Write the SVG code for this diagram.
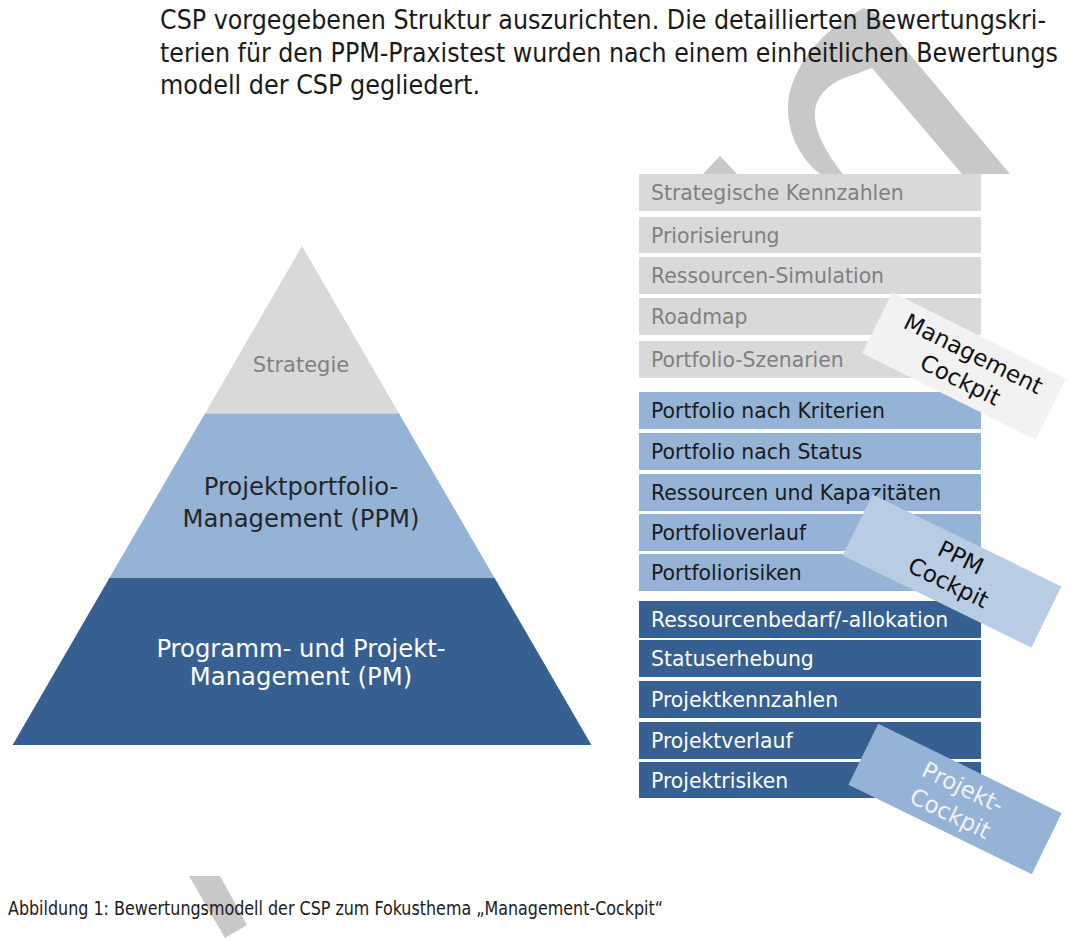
<svg xmlns="http://www.w3.org/2000/svg" width="1071" height="938" viewBox="0 0 1071 938">
<style>
.body{font-family:"DejaVu Sans Condensed","DejaVu Sans",Verdana,sans-serif;font-size:26px;fill:#1a1a1a}
.cap{font-family:"DejaVu Sans Condensed","DejaVu Sans",Verdana,sans-serif;font-size:19px;fill:#1a1a1a}
.wm{fill:#c8c8c8}
.row text{font-family:"DejaVu Sans",Verdana,sans-serif;font-size:20.4px}
.g rect{fill:#d9d9d9}.g text{fill:#808080}
.b rect{fill:#95b3d7}.b text{fill:#1a1a1a}
.d rect{fill:#366092}.d text{fill:#ffffff}
.pyr text{font-family:"DejaVu Sans",Verdana,sans-serif;text-anchor:middle}
.lab text{font-family:"DejaVu Sans",Verdana,sans-serif;font-size:23px;text-anchor:middle}
</style>
<rect width="1071" height="938" fill="#ffffff"/>
<g id="watermark">
<path class="wm" fill-rule="evenodd" d="M820,174 C797,156 784,125 789,96 C795,66 818,36 850,16 L864,8 L876,14 L1010,174 Z M843,174 C828,155 813,131 815,111 C817,95 830,82 850,76 L872,68 L962,174 Z"/>
<path class="wm" d="M703,174 L720,156 L737,174 Z"/>
<path class="wm" d="M189,876 L220,876 L247,925 L225,938 Z"/>
</g>
<g id="text">
<text class="body" x="160" y="29" textLength="886" lengthAdjust="spacingAndGlyphs">CSP vorgegebenen Struktur auszurichten. Die detaillierten Bewertungskri-</text>
<text class="body" x="160" y="62" textLength="898" lengthAdjust="spacingAndGlyphs">terien für den PPM-Praxistest wurden nach einem einheitlichen Bewertungs</text>
<text class="body" x="160" y="94" textLength="320" lengthAdjust="spacingAndGlyphs">modell der CSP gegliedert.</text>
<text class="cap" x="8" y="915" textLength="655" lengthAdjust="spacingAndGlyphs">Abbildung 1: Bewertungsmodell der CSP zum Fokusthema „Management-Cockpit“</text>
</g>
<g id="pyramid" class="pyr">
<g id="pyr-strategie">
<polygon points="302,246 399,413.5 205,413.5" fill="#d9d9d9"/>
<text x="301" y="372" font-size="21" fill="#808080">Strategie</text>
</g>
<g id="pyr-ppm">
<polygon points="205,413.5 399,413.5 494.6,578 109.4,578" fill="#95b3d7"/>
<text x="301" y="495" font-size="24.3" fill="#262626">Projektportfolio-</text>
<text x="301" y="527" font-size="24.3" fill="#262626">Management (PPM)</text>
</g>
<g id="pyr-pm">
<polygon points="109.4,578 494.6,578 591.4,745 12.6,745" fill="#366092"/>
<text x="301" y="657" font-size="24.3" fill="#ffffff">Programm- und Projekt-</text>
<text x="301" y="685" font-size="24.3" fill="#ffffff">Management (PM)</text>
</g>
</g>
<g id="rows">
<g id="r1" class="row g"><rect x="639" y="174" width="342" height="37"/><text x="651" y="200">Strategische Kennzahlen</text></g>
<g id="r2" class="row g"><rect x="639" y="217" width="342" height="36"/><text x="651" y="243">Priorisierung</text></g>
<g id="r3" class="row g"><rect x="639" y="257" width="342" height="37"/><text x="651" y="283">Ressourcen-Simulation</text></g>
<g id="r4" class="row g"><rect x="639" y="298" width="342" height="37"/><text x="651" y="324">Roadmap</text></g>
<g id="r5" class="row g"><rect x="639" y="341" width="342" height="37"/><text x="651" y="367">Portfolio-Szenarien</text></g>
<g id="r6" class="row b"><rect x="639" y="392" width="342" height="37"/><text x="651" y="418">Portfolio nach Kriterien</text></g>
<g id="r7" class="row b"><rect x="639" y="433" width="342" height="37"/><text x="651" y="459">Portfolio nach Status</text></g>
<g id="r8" class="row b"><rect x="639" y="474" width="342" height="37"/><text x="651" y="500">Ressourcen und Kapazitäten</text></g>
<g id="r9" class="row b"><rect x="639" y="514" width="342" height="37"/><text x="651" y="540">Portfolioverlauf</text></g>
<g id="r10" class="row b"><rect x="639" y="554" width="342" height="37"/><text x="651" y="580">Portfoliorisiken</text></g>
<g id="r11" class="row d"><rect x="639" y="601" width="342" height="37"/><text x="651" y="627">Ressourcenbedarf/-allokation</text></g>
<g id="r12" class="row d"><rect x="639" y="640" width="342" height="37"/><text x="651" y="666">Statuserhebung</text></g>
<g id="r13" class="row d"><rect x="639" y="681" width="342" height="37"/><text x="651" y="707">Projektkennzahlen</text></g>
<g id="r14" class="row d"><rect x="639" y="722" width="342" height="37"/><text x="651" y="748">Projektverlauf</text></g>
<g id="r15" class="row d"><rect x="639" y="762" width="342" height="36"/><text x="651" y="788">Projektrisiken</text></g>
</g>
<g id="labels" class="lab">
<g id="lab-management" transform="translate(964,366) rotate(26.5)">
<rect x="-97" y="-34" width="194" height="68" fill="#f2f2f2"/>
<text x="3" y="-7" fill="#111111">Management</text>
<text x="3" y="22" fill="#111111">Cockpit</text>
</g>
<g id="lab-ppm" transform="translate(952,571) rotate(26)">
<rect x="-105" y="-34" width="210" height="68" fill="#b8cce4"/>
<text x="2" y="-8" fill="#111111">PPM</text>
<text x="2" y="20" fill="#111111">Cockpit</text>
</g>
<g id="lab-projekt" transform="translate(955,799) rotate(26)">
<rect x="-102" y="-34" width="204" height="68" fill="#95b3d7"/>
<text x="2" y="-6" fill="#f2f2f2">Projekt-</text>
<text x="2" y="23" fill="#f2f2f2">Cockpit</text>
</g>
</g>
<g id="connectors"/>
</svg>
